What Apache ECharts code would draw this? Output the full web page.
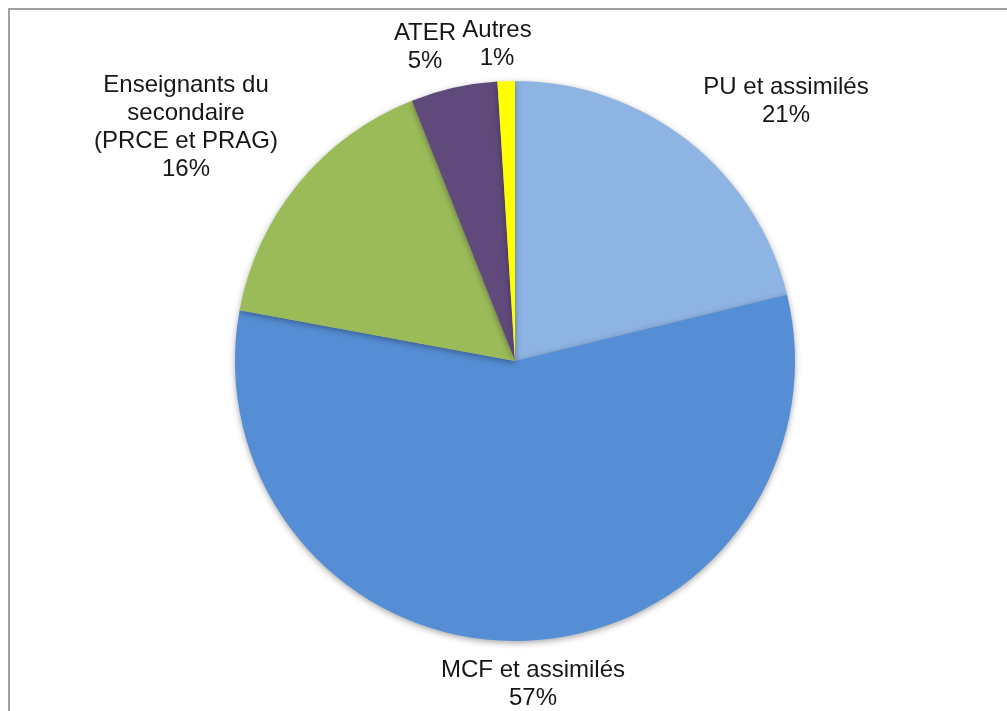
<!DOCTYPE html>
<html>
<head>
<meta charset="utf-8">
<script src="https://cdn.jsdelivr.net/npm/echarts@6/dist/echarts.min.js"></script>
<style>
html,body{margin:0;padding:0;background:#fff;}
#c{width:1007px;height:711px;}
</style>
</head>
<body>
<div id="c"></div>
<script>
const categories = ['PU et assimilés', 'MCF et assimilés', 'Enseignants du\nsecondaire\n(PRCE et PRAG)', 'ATER', 'Autres'];
const values = [21.2, 56.7, 16.1, 5.0, 1.0];
const colors = ['#8EB4E3', '#558ED5', '#9BBB59', '#604A7B', '#FFFF00'];
const labelSpots = [[786, 101], [533, 684], [186, 127], [425, 47], [497, 44]];

const chart = echarts.init(document.getElementById('c'), null, {renderer: 'canvas'});
const total = values.reduce((a, b) => a + b, 0);
chart.setOption({
  animation: false,
  graphic: [{
    type: 'polyline',
    shape: {points: [[9, 711], [9, 9], [1007, 9]]},
    style: {stroke: '#a0a0a0', lineWidth: 2, fill: null}
  }],
  series: [{
    type: 'pie',
    center: [515, 361],
    radius: [0, 280],
    startAngle: 90,
    clockwise: true,
    data: categories.map((n, i) => ({name: n, value: values[i], itemStyle: {color: colors[i]}})),
    itemStyle: {
      borderWidth: 0,
      shadowBlur: 6,
      shadowColor: 'rgba(0,0,0,0.35)',
      shadowOffsetX: 0,
      shadowOffsetY: 2
    },
    emphasis: {disabled: true},
    label: {
      show: true,
      position: 'outside',
      formatter: p => p.name + '\n' + Math.round(p.value / total * 100) + '%',
      fontFamily: 'Liberation Sans, Arial, sans-serif',
      fontSize: 24,
      lineHeight: 28,
      color: '#161616',
      align: 'center'
    },
    labelLine: {show: false},
    labelLayout: p => ({
      x: labelSpots[p.dataIndex][0],
      y: labelSpots[p.dataIndex][1],
      align: 'center',
      verticalAlign: 'middle',
      hideOverlap: false
    })
  }]
});
</script>
</body>
</html>
